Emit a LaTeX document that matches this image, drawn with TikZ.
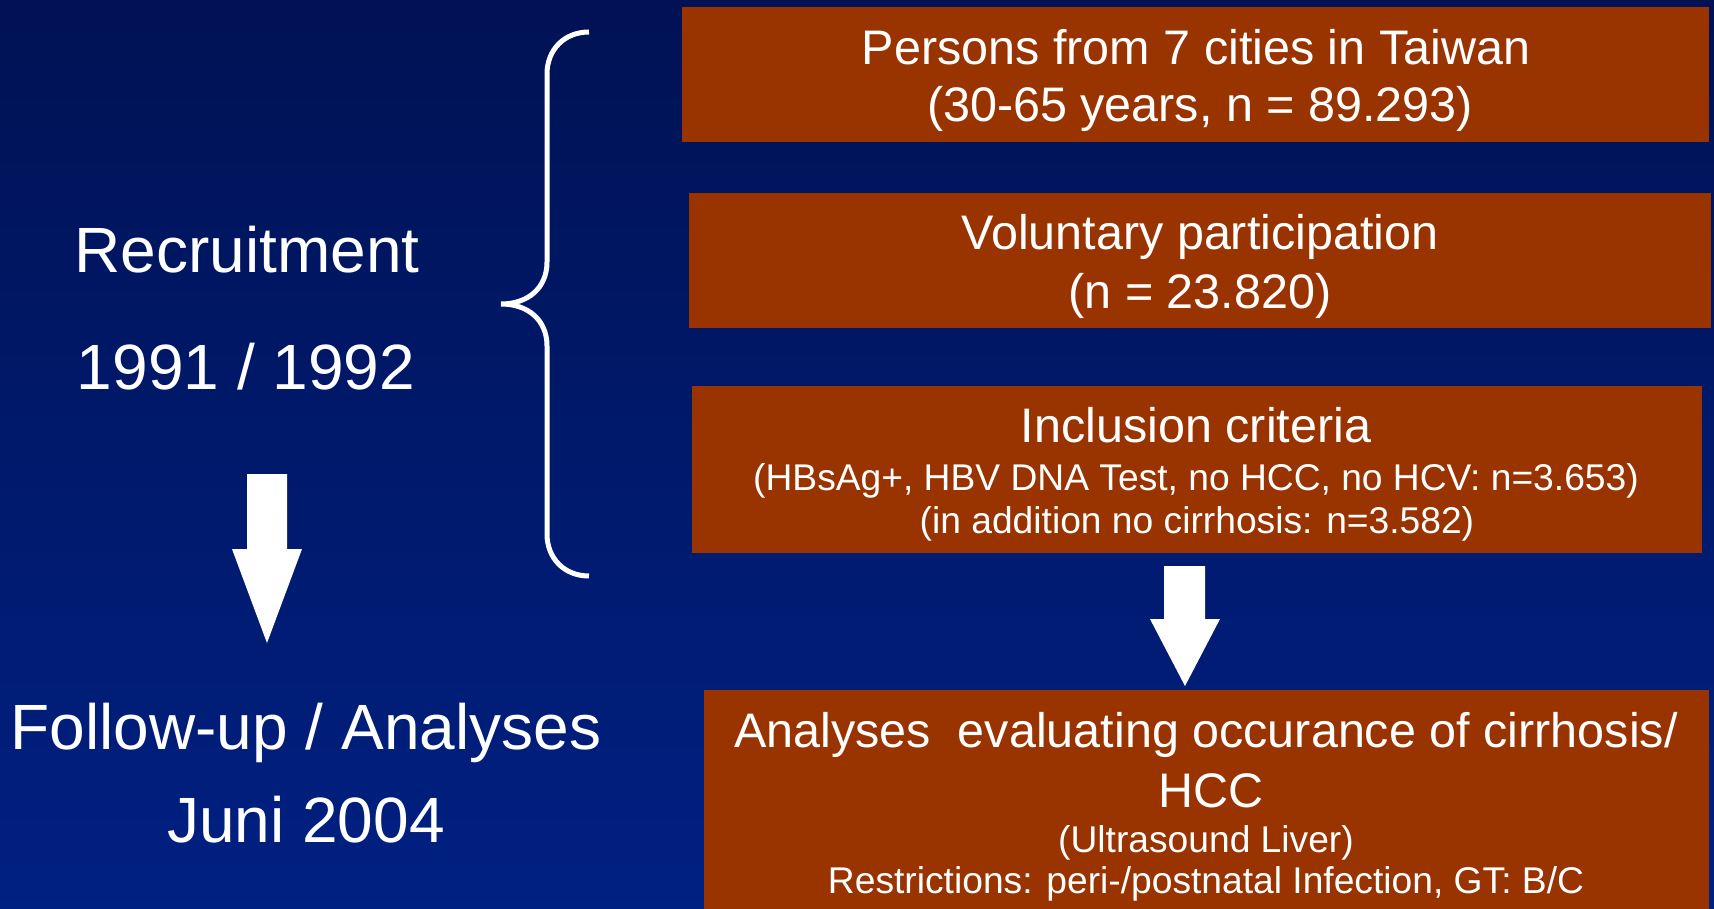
\documentclass[tikz,border=0pt]{standalone}
\usepackage{fontspec}
\setmainfont{Liberation Sans}
\begin{document}
\begin{tikzpicture}[x=1pt,y=-1pt,
  box/.style={draw=none,fill=rust,inner sep=0pt,outer sep=0pt},
  lbl/.style={text=white,inner sep=0pt,anchor=base},
  bigtxt/.style={lbl,font=\fontsize{48.5}{58}\selectfont},
  smalltxt/.style={lbl,font=\fontsize{37.2}{44}\selectfont},
  sidetxt/.style={lbl,font=\fontsize{64}{76}\selectfont},
  blockarrow/.style={fill=white,draw=none}]
\definecolor{rust}{RGB}{153,51,0}
\definecolor{navytop}{RGB}{0,18,84}
\definecolor{navybot}{RGB}{0,32,130}
\useasboundingbox (0,0) rectangle (1714,909);
\shade[top color=navytop,bottom color=navybot] (0,0) rectangle (1714,909);

% stage boxes
\node[box,minimum width=1027pt,minimum height=135pt] (box1) at (1195.5,74.5) {};
\node[box,minimum width=1022pt,minimum height=135pt] (box2) at (1200,260.5) {};
\node[box,minimum width=1010pt,minimum height=167pt] (box3) at (1197,469.5) {};
\node[box,minimum width=1005pt,minimum height=222pt] (box4) at (1206.5,801) {};

% box texts
\node[bigtxt] (t1a) at (1196,65) {Persons from 7 cities in Taiwan};
\node[bigtxt] (t1b) at (1200,122) {(30-65 years, n = 89.293)};
\node[bigtxt] (t2a) at (1200,250) {Voluntary participation};
\node[bigtxt] (t2b) at (1200,309) {(n = 23.820)};
\node[bigtxt] (t3a) at (1196,442) {Inclusion criteria};
\node[smalltxt] (t3b) at (1196,490) {(HBsAg+, HBV DNA Test, no HCC, no HCV: n=3.653)};
\node[smalltxt] (t3c) at (1197,533) {(in addition no cirrhosis: n=3.582)};
\node[bigtxt] (t4a) at (1206,747) {Analyses\ \ evaluating occurance of cirrhosis/};
\node[bigtxt] (t4b) at (1211,807) {HCC};
\node[smalltxt] (t4c) at (1206,852) {(Ultrasound Liver)};
\node[smalltxt] (t4d) at (1206,893) {Restrictions: peri-/postnatal Infection, GT: B/C};

% time line labels
\node[sidetxt] (rec) at (247,273) {Recruitment};
\node[sidetxt] (yr) at (246,389) {1991 / 1992};
\node[sidetxt] (fu) at (306,749) {Follow-up / Analyses};
\node[sidetxt] (jun) at (306,842) {Juni 2004};

% curly brace grouping the recruitment steps
\draw[white,line width=5pt]
  (589,32) .. controls (564,32) and (547,50) .. (547,74)
  -- (547,262) .. controls (547,288) and (528,304) .. (501,304)
  .. controls (528,304) and (547,320) .. (547,346)
  -- (547,534) .. controls (547,558) and (564,576) .. (589,576);

% block arrows
\fill[blockarrow] (247,474) -- (287,474) -- (287,549) -- (302,549)
  -- (267,643) -- (232,549) -- (247,549) -- cycle;
\fill[blockarrow] (1164,566) -- (1205,566) -- (1205,619) -- (1220,619)
  -- (1185,686) -- (1150,619) -- (1164,619) -- cycle;
\end{tikzpicture}
\end{document}
